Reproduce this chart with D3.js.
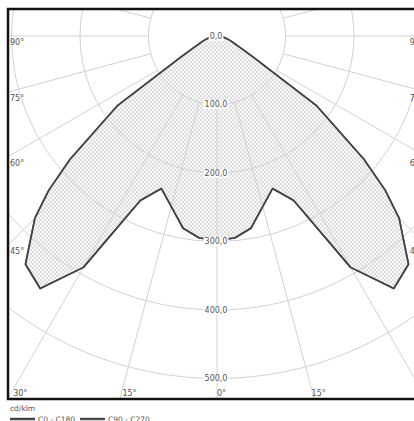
<!DOCTYPE html>
<html>
<head>
<meta charset="utf-8">
<script src="https://cdn.jsdelivr.net/npm/d3@7"></script>
<style>
  body { margin: 0; background: #fff; }
  text { font-family: "DejaVu Sans", sans-serif; }
</style>
</head>
<body>
<svg id="chart" width="414" height="421"></svg>
<script>
// gamma angles (deg from nadir) and intensities (cd/klm)
var gammaAngles = [0, 5, 10, 15, 20, 25, 30, 35, 40, 45, 47.5, 50, 55, 60, 65, 70, 75, 80, 85, 90];
var c0c180 = [298, 296, 285, 258, 237, 265, 390, 450, 435, 376, 333, 280, 178, 60, 33, 22, 15, 10, 5, 0];
var c90c270 = [298, 296, 285, 258, 237, 265, 390, 450, 435, 376, 333, 280, 178, 60, 33, 22, 15, 10, 5, 0];
var ringValues = [0, 100, 200, 300, 400, 500];
var ringLabels = ["0,0", "100,0", "200,0", "300,0", "400,0", "500,0"];
var spokeAngles = d3.range(0, 360, 15);
var labelAngles = [-90, -75, -60, -45, -30, -15, 0, 15, 30, 45, 60, 75, 90];
var legendNames = ["C0 - C180", "C90 - C270"];

var svg = d3.select("#chart");
var box = {x: 8, y: 9, w: 418, h: 390};
var cx = 217, cy = 36;

var r = d3.scaleLinear().domain([0, 500]).range([0, 342.5]);

var defs = svg.append("defs");
defs.append("clipPath").attr("id", "clip")
  .append("rect").attr("x", box.x).attr("y", box.y).attr("width", box.w).attr("height", box.h);

var pat = defs.append("pattern").attr("id", "hatch")
  .attr("patternUnits", "userSpaceOnUse").attr("width", 4).attr("height", 4);
pat.append("rect").attr("width", 4).attr("height", 4).attr("fill", "#f8f8f8");
pat.append("path").attr("d", "M0,0L4,4M4,0L0,4")
  .attr("stroke", "#d2d2d2").attr("stroke-width", 0.7);

var plot = svg.append("g").attr("clip-path", "url(#clip)");
var g = plot.append("g").attr("transform", "translate(" + cx + "," + cy + ")");

// build closed outline: left side 90 -> 0, right side 0 -> 90
function outline(vals) {
  var pts = [];
  for (var i = gammaAngles.length - 1; i >= 0; i--)
    pts.push({a: Math.PI + gammaAngles[i] * Math.PI / 180, v: vals[i]});
  for (var j = 1; j < gammaAngles.length; j++)
    pts.push({a: Math.PI - gammaAngles[j] * Math.PI / 180, v: vals[j]});
  return pts;
}

var line = d3.lineRadial()
  .angle(function(d) { return d.a; })
  .radius(function(d) { return r(d.v); });

// fill
g.append("path")
  .attr("d", line(outline(c0c180)) + "Z")
  .attr("fill", "url(#hatch)")
  .attr("stroke", "none");

// rings
g.selectAll(".ring").data(ringValues.slice(1)).enter().append("circle")
  .attr("r", function(d) { return r(d); })
  .attr("fill", "none")
  .attr("stroke", "#d2d2d2")
  .attr("stroke-width", 1);

// spokes from the 100 ring outward
g.selectAll(".spoke").data(spokeAngles).enter().append("line")
  .attr("x1", function(d) { return r(100) * Math.sin(d * Math.PI / 180); })
  .attr("y1", function(d) { return r(100) * Math.cos(d * Math.PI / 180); })
  .attr("x2", function(d) { return 800 * Math.sin(d * Math.PI / 180); })
  .attr("y2", function(d) { return 800 * Math.cos(d * Math.PI / 180); })
  .attr("stroke", "#d2d2d2")
  .attr("stroke-width", 1);

// curves
var curveColors = ["#444", "#4a4a4a"];
[c90c270, c0c180].forEach(function(vals, i) {
  g.append("path")
    .attr("d", line(outline(vals)))
    .attr("fill", "none")
    .attr("stroke", curveColors[1 - i])
    .attr("stroke-width", 1.6)
    .attr("stroke-linejoin", "round");
});

// ring value labels with white background
var rl = g.selectAll(".rlab").data(ringValues).enter().append("g")
  .attr("transform", function(d) { return "translate(-1," + r(d) + ")"; });
rl.append("text")
  .attr("text-anchor", "middle")
  .attr("dy", "0.35em")
  .attr("font-size", 8)
  .attr("fill", "#555")
  .text(function(d, i) { return ringLabels[i]; })
  .each(function() {
    var bb = this.getBBox();
    d3.select(this.parentNode).insert("rect", "text")
      .attr("x", bb.x - 1).attr("y", bb.y).attr("width", bb.width + 2).attr("height", bb.height)
      .attr("fill", "#fff");
  });

// angle labels on the frame
var right = box.x + box.w;
labelAngles.forEach(function(a) {
  var s = Math.sin(a * Math.PI / 180), c = Math.cos(a * Math.PI / 180);
  var txt = Math.abs(a) + "°";
  var x, y, anchor = "start";
  // where the ray meets the text row above the bottom edge
  var tb = (389 - cy) / c;
  var xb = cx + s * tb;
  if (c > 0.01 && xb >= box.x && xb <= right) {
    x = Math.max(box.x + 2, xb);
    y = 396;
  } else if (s < 0) {
    var t = (cx - box.x) / -s;
    x = box.x + 2;
    y = cy + c * t + 9;
  } else {
    var t2 = (right - cx) / s;
    x = right - 2;
    y = cy + c * t2 + 9;
    anchor = "end";
  }
  plot.append("text")
    .attr("x", x).attr("y", y)
    .attr("text-anchor", anchor)
    .attr("font-size", 8)
    .attr("fill", "#555")
    .text(txt);
});

// frame
svg.append("rect")
  .attr("x", box.x).attr("y", box.y).attr("width", box.w).attr("height", box.h)
  .attr("fill", "none")
  .attr("stroke", "#111")
  .attr("stroke-width", 2.5);

// unit + legend
svg.append("text").attr("x", 10).attr("y", 411)
  .attr("font-size", 7.5).attr("fill", "#555").text("cd/klm");

var lg = svg.selectAll(".lg").data(legendNames).enter().append("g")
  .attr("transform", function(d, i) { return "translate(" + (10 + i * 70) + ",419)"; });
lg.append("line").attr("x1", 0).attr("x2", 25).attr("y1", 0).attr("y2", 0)
  .attr("stroke", function(d, i) { return curveColors[i]; }).attr("stroke-width", 2.5);
lg.append("text").attr("x", 28).attr("y", 3)
  .attr("font-size", 7.5).attr("fill", "#555").text(function(d) { return d; });
</script>
</body>
</html>
